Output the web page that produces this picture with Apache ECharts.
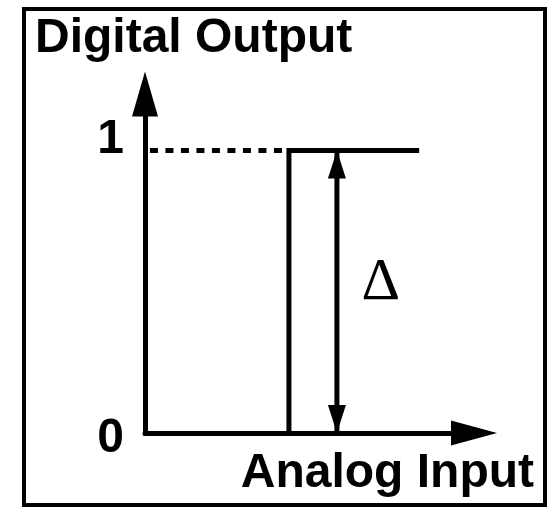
<!DOCTYPE html>
<html>
<head>
<meta charset="utf-8">
<script src="https://cdn.jsdelivr.net/npm/echarts@6/dist/echarts.min.js"></script>
<style>
  html, body { margin: 0; padding: 0; background: #fff; }
  #chart { width: 554px; height: 513px; }
</style>
</head>
<body>
<div id="chart"></div>
<script>
// 坐标范围
var xMax = 12;
var yMax = 1.2;
var yTickLabels = ['0', '1'];

// 阶跃输出 (阈值处跳变)
var stepData = [[5.25, 0], [5.25, 1], [10, 1]];
// 从 y 轴到阶跃处的虚线
var dashData = [[0.18, 1], [5.25, 1]];
// 双向箭头 Δ
var deltaData = [[7, 0], [7, 1]];
var deltaLabelPos = [[8.6, 0.53]];

var fontSans = "'Liberation Sans', Arial, sans-serif";

var chartDom = document.getElementById('chart');
var myChart = echarts.init(chartDom);

var option = {
  animation: false,
  backgroundColor: '#fff',
  title: [
    {
      text: 'Digital Output',
      left: 35,
      top: 15,
      padding: 0,
      textStyle: { fontFamily: fontSans, fontSize: 48, fontWeight: 'bold', color: '#000' }
    },
    {
      text: 'Analog Input',
      right: 20,
      top: 450,
      padding: 0,
      textStyle: { fontFamily: fontSans, fontSize: 48, fontWeight: 'bold', color: '#000' }
    }
  ],
  grid: {
    left: 145,
    right: 80,
    top: 94,
    bottom: 80,
    containLabel: false
  },
  xAxis: {
    type: 'value',
    min: 0,
    max: xMax,
    axisLine: {
      show: true,
      symbol: ['none', 'triangle'],
      symbolSize: [25, 46],
      lineStyle: { color: '#000', width: 5 }
    },
    axisTick: { show: false },
    axisLabel: { show: false },
    splitLine: { show: false }
  },
  yAxis: {
    type: 'value',
    min: 0,
    max: yMax,
    interval: 1,
    axisLine: {
      show: true,
      symbol: ['none', 'triangle'],
      symbolSize: [26, 45],
      lineStyle: { color: '#000', width: 5, cap: 'square' }
    },
    axisTick: { show: false },
    splitLine: { show: false },
    axisLabel: {
      show: true,
      margin: 21,
      formatter: function (v) {
        var i = Math.round(v);
        if (Math.abs(v - i) > 1e-6 || yTickLabels[i] == null) return '';
        return i === 1 ? '{one|' + yTickLabels[i] + '}' : '{zero|' + yTickLabels[i] + '}';
      },
      rich: {
        one: { fontFamily: fontSans, fontSize: 48, fontWeight: 'bold', color: '#000', padding: [0, 0, 21, 0] },
        zero: { fontFamily: fontSans, fontSize: 48, fontWeight: 'bold', color: '#000', padding: [11, 0, 0, 0] }
      }
    }
  },
  series: [
    {
      name: 'dash',
      type: 'line',
      data: dashData,
      symbol: 'none',
      silent: true,
      lineStyle: { color: '#000', width: 5, type: [8, 7.5], cap: 'butt' }
    },
    {
      name: 'step',
      type: 'line',
      data: stepData,
      symbol: 'none',
      silent: true,
      lineStyle: { color: '#000', width: 5, join: 'miter' }
    },
    {
      name: 'delta',
      type: 'line',
      data: [
        { value: deltaData[0], symbolRotate: 180, symbolOffset: [0, -14] },
        { value: deltaData[1], symbolRotate: 0, symbolOffset: [0, 14] }
      ],
      symbol: 'triangle',
      symbolSize: [18, 28],
      showSymbol: true,
      silent: true,
      itemStyle: { color: '#000', borderWidth: 0, opacity: 1 },
      lineStyle: { color: '#000', width: 5 }
    },
    {
      name: 'deltaLabel',
      type: 'scatter',
      data: deltaLabelPos,
      symbolSize: 0,
      silent: true,
      itemStyle: { opacity: 1, color: '#000' },
      label: {
        show: true,
        position: 'inside',
        formatter: 'Δ',
        fontFamily: "'Liberation Serif', 'Times New Roman', serif",
        fontWeight: 'normal',
        fontSize: 60,
        color: '#000',
        opacity: 1,
        textBorderWidth: 0
      }
    }
  ],
  graphic: {
    elements: [
      {
        type: 'rect',
        silent: true,
        shape: { x: 24, y: 9, width: 521, height: 496 },
        style: { fill: 'none', stroke: '#000', lineWidth: 4 }
      }
    ]
  }
};

myChart.setOption(option);
</script>
</body>
</html>
